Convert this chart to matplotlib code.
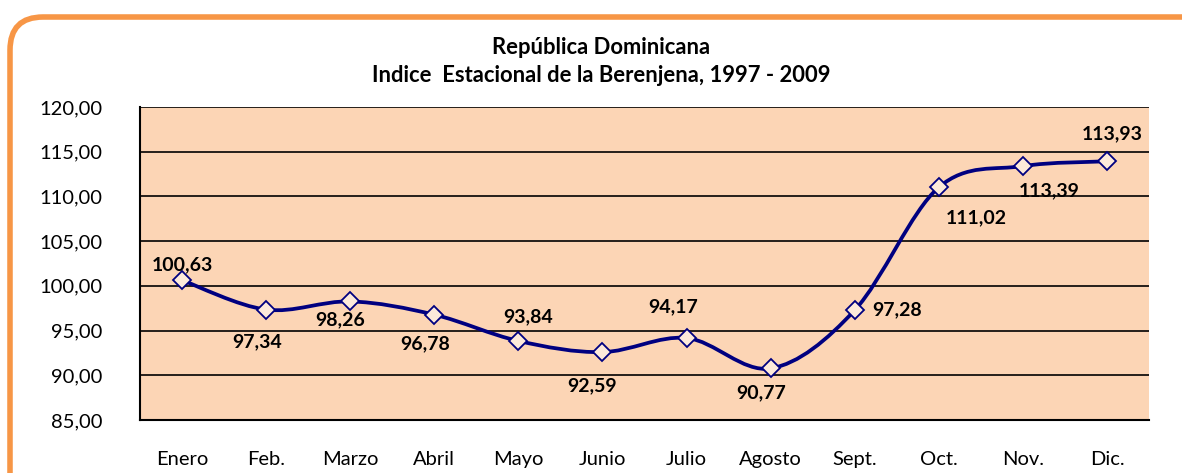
import matplotlib
matplotlib.use("Agg")
import matplotlib.pyplot as plt
from matplotlib.path import Path
from matplotlib.patches import PathPatch, FancyBboxPatch
import numpy as np

plt.rcParams['font.family'] = ['Lato', 'DejaVu Sans']

months = ["Enero", "Feb.", "Marzo", "Abril", "Mayo", "Junio", "Julio",
          "Agosto", "Sept.", "Oct.", "Nov.", "Dic."]
values = [100.63, 97.34, 98.26, 96.78, 93.84, 92.59, 94.17, 90.77,
          97.28, 111.02, 113.39, 113.93]
yticks = [85, 90, 95, 100, 105, 110, 115, 120]
title = "República Dominicana\nIndice  Estacional de la Berenjena, 1997 - 2009"

# label placement (pixel offsets of label centre from its point; style only)
label_offsets = [(0, 15), (-9, -32), (-10, -18), (-9, -29), (10, 24),
                 (-10, -34), (-13, 31), (-9, -24), (42, 0), (37, -30),
                 (26, -25), (5, 28)]

W, H = 1182, 473
fig = plt.figure(figsize=(W / 100, H / 100), dpi=100)

# rounded orange frame
frame = FancyBboxPatch((10 / W, -0.2), (W + 40) / W, 1.2 - 17 / H,
                       boxstyle="round,pad=0,rounding_size=0.028",
                       transform=fig.transFigure, facecolor="none",
                       edgecolor="#F79646", linewidth=4, mutation_aspect=W / H,
                       zorder=-1)
fig.patches.append(frame)

ax = fig.add_axes([140 / W, (H - 420) / H, (1149 - 140) / W, (420 - 107) / H])
ax.set_facecolor("#FCD5B5")
ax.set_xlim(-0.5, len(months) - 0.5)
ax.set_ylim(85, 120)
ax.set_yticks(yticks)
ax.set_yticklabels([f"{v:.2f}".replace(".", ",") for v in yticks], fontsize=14.5)
ax.set_xticks(range(len(months)))
ax.set_xticklabels(months, fontsize=14.5)
ax.tick_params(axis="y", length=0, pad=27)
ax.tick_params(axis="x", length=0, pad=22)
for yv in yticks[1:]:
    ax.axhline(yv, color="black", linewidth=1.2, zorder=1)
for s in ax.spines.values():
    s.set_linewidth(1.5)
    s.set_color("black")
ax.spines["right"].set_visible(False)
ax.spines["top"].set_visible(False)

# smooth curve (Catmull-Rom as cubic Bezier through data points)
x = np.arange(len(values), dtype=float)
y = np.array(values, dtype=float)
verts = [(x[0], y[0])]
codes = [Path.MOVETO]
n = len(x)
for i in range(n - 1):
    p0 = np.array([x[max(i - 1, 0)], y[max(i - 1, 0)]])
    p1 = np.array([x[i], y[i]])
    p2 = np.array([x[i + 1], y[i + 1]])
    p3 = np.array([x[min(i + 2, n - 1)], y[min(i + 2, n - 1)]])
    c1 = p1 + (p2 - p0) / 6
    c2 = p2 - (p3 - p1) / 6
    verts += [tuple(c1), tuple(c2), tuple(p2)]
    codes += [Path.CURVE4] * 3
ax.add_patch(PathPatch(Path(verts, codes), facecolor="none",
                       edgecolor="#000080", linewidth=2.7, zorder=3))
ax.plot(x, y, linestyle="none", marker="D", markersize=9.5,
        markerfacecolor="#FDEADA", markeredgecolor="#000080",
        markeredgewidth=1.3, zorder=4)

for i, (v, (dx, dy)) in enumerate(zip(values, label_offsets)):
    ax.annotate(f"{v:.2f}".replace(".", ","), (i, v), xytext=(dx, dy),
                textcoords="offset points" if False else "offset pixels",
                ha="center", va="center",
                fontsize=14, fontweight="bold", color="black", zorder=5)

fig.text(601 / W, 1 - 37 / H, title, ha="center", va="top",
         fontsize=15.8, fontweight="bold", linespacing=1.4)

fig.savefig("out.png", dpi=100)
